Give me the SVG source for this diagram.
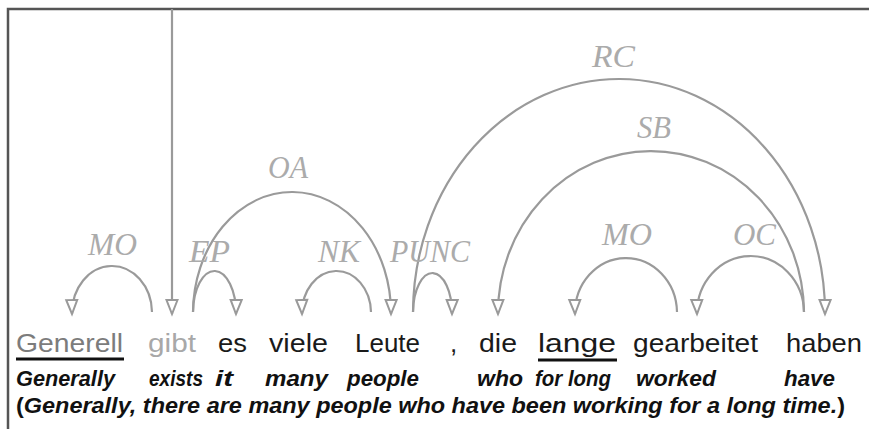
<svg xmlns="http://www.w3.org/2000/svg" width="869" height="429" viewBox="0 0 869 429">
<style>
.frame{stroke:#555;stroke-width:2.5;fill:none}
.arc{fill:none;stroke:#9a9a9a;stroke-width:2.2;marker-end:url(#ah)}
.lbl{font-family:"Liberation Serif",serif;font-style:italic;font-size:31px;fill:#ababab}
.w{font-family:"Liberation Sans",Arial,sans-serif;font-size:26px;fill:#1a1a1a}
.g{font-family:"Liberation Sans",Arial,sans-serif;font-style:italic;font-weight:bold;font-size:21.5px;fill:#111}
.ul{stroke:#111;stroke-width:3}
</style>
<defs>
<marker id="ah" markerUnits="userSpaceOnUse" markerWidth="20" markerHeight="16" refX="15" refY="6.5" orient="auto" overflow="visible">
<path d="M1,1 L15,6.5 L1,12 z" fill="#fff" stroke="#9a9a9a" stroke-width="2" stroke-linejoin="miter"/>
</marker>
</defs>
<rect width="869" height="429" fill="#fff"/>
<path class="frame" d="M8,429 L8,9 L869,9"/>
<g id="connectors">
<path class="arc" d="M172,9 L172,314"/>
<path class="arc" d="M152,312 A40,47 0 0 0 72,314"/>
<path class="arc" d="M193,312 A21.5,42 0 0 1 236,314"/>
<path class="arc" d="M193,312 A99,121 0 0 1 391,314"/>
<path class="arc" d="M371,312 A34.5,42 0 0 0 302,314"/>
<path class="arc" d="M413,312 A19.5,40 0 0 1 452,314"/>
<path class="arc" d="M413,312 A206,234 0 0 1 825,314"/>
<path class="arc" d="M804,312 A153,162 0 0 0 498,314"/>
<path class="arc" d="M677,312 A51,55 0 0 0 575,314"/>
<path class="arc" d="M804,312 A53.5,57 0 0 0 697,314"/>
</g>
<g id="labels">
<text class="lbl" x="88" y="255" textLength="49" lengthAdjust="spacingAndGlyphs">MO</text>
<text class="lbl" x="189" y="262" textLength="41" lengthAdjust="spacingAndGlyphs">EP</text>
<text class="lbl" x="268" y="178" textLength="40" lengthAdjust="spacingAndGlyphs">OA</text>
<text class="lbl" x="318" y="262" textLength="42" lengthAdjust="spacingAndGlyphs">NK</text>
<text class="lbl" x="390" y="262" textLength="80" lengthAdjust="spacingAndGlyphs">PUNC</text>
<text class="lbl" x="592" y="67" textLength="43" lengthAdjust="spacingAndGlyphs">RC</text>
<text class="lbl" x="637" y="138" textLength="34" lengthAdjust="spacingAndGlyphs">SB</text>
<text class="lbl" x="602" y="245" textLength="50" lengthAdjust="spacingAndGlyphs">MO</text>
<text class="lbl" x="733" y="245" textLength="43" lengthAdjust="spacingAndGlyphs">OC</text>
</g>
<g id="w-generell"><text class="w" x="16" y="352" textLength="107" lengthAdjust="spacingAndGlyphs" style="fill:#7c7c7c">Generell</text><line class="ul" x1="16" y1="359" x2="124" y2="359"/></g>
<g id="w-gibt"><text class="w" x="148" y="352" textLength="48" lengthAdjust="spacingAndGlyphs" style="fill:#a8a8a8">gibt</text></g>
<g id="w-es"><text class="w" x="218" y="352" textLength="29" lengthAdjust="spacingAndGlyphs">es</text></g>
<g id="w-viele"><text class="w" x="269" y="352" textLength="59" lengthAdjust="spacingAndGlyphs">viele</text></g>
<g id="w-leute"><text class="w" x="355" y="352" textLength="65" lengthAdjust="spacingAndGlyphs">Leute</text></g>
<g id="w-comma"><text class="w" x="450" y="352">,</text></g>
<g id="w-die"><text class="w" x="479" y="352" textLength="38" lengthAdjust="spacingAndGlyphs">die</text></g>
<g id="w-lange"><text class="w" x="538" y="352" textLength="78" lengthAdjust="spacingAndGlyphs">lange</text><line class="ul" x1="538" y1="360" x2="617" y2="360"/></g>
<g id="w-gearbeitet"><text class="w" x="633" y="352" textLength="125" lengthAdjust="spacingAndGlyphs">gearbeitet</text></g>
<g id="w-haben"><text class="w" x="786" y="352" textLength="76" lengthAdjust="spacingAndGlyphs">haben</text></g>
<g id="glosses">
<text class="g" x="16" y="386" textLength="99" lengthAdjust="spacingAndGlyphs">Generally</text>
<text class="g" x="149" y="386" textLength="54" lengthAdjust="spacingAndGlyphs">exists</text>
<text class="g" x="215" y="386" textLength="18" lengthAdjust="spacingAndGlyphs">it</text>
<text class="g" x="265" y="386" textLength="63" lengthAdjust="spacingAndGlyphs">many</text>
<text class="g" x="347" y="386" textLength="72" lengthAdjust="spacingAndGlyphs">people</text>
<text class="g" x="477" y="386" textLength="46" lengthAdjust="spacingAndGlyphs">who</text>
<text class="g" x="535" y="386" textLength="76" lengthAdjust="spacingAndGlyphs">for long</text>
<text class="g" x="636" y="386" textLength="80" lengthAdjust="spacingAndGlyphs">worked</text>
<text class="g" x="784" y="386" textLength="51" lengthAdjust="spacingAndGlyphs">have</text>
</g>
<g id="translation">
<text class="g" x="16" y="413" textLength="829" lengthAdjust="spacingAndGlyphs"><tspan style="font-style:normal">(</tspan>Generally, there are many people who have been working for a long time.<tspan style="font-style:normal">)</tspan></text>
</g>
</svg>
